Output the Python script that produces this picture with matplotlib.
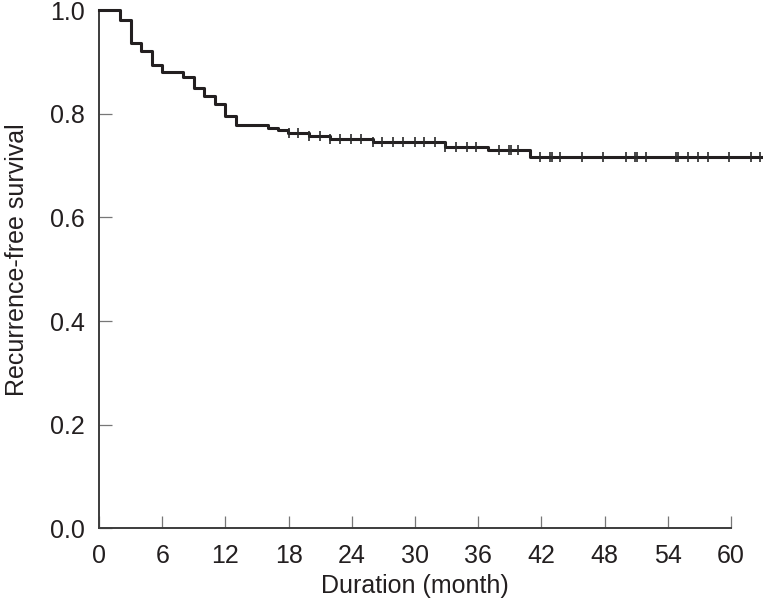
import matplotlib
matplotlib.use('Agg')
import matplotlib.pyplot as plt
import numpy as np

# Kaplan-Meier step values
event_months = [0, 2, 3, 4, 5, 6, 8, 9, 10, 11, 12, 13, 16, 17, 17.9, 19.9, 21.9, 26, 32.9, 36.9, 40.9]
survival = [1.0, 0.981, 0.937, 0.921, 0.894, 0.880, 0.870, 0.849, 0.835, 0.818, 0.795,
            0.779, 0.773, 0.768, 0.763, 0.757, 0.751, 0.745, 0.736, 0.729, 0.717]
last_month = 62.9

# censored observations (tick marks)
censor_months = [18.0, 18.9, 19.9, 21.0, 21.9, 22.9, 23.9, 24.9, 26.0, 26.9, 27.9, 28.9,
                 30.0, 30.9, 31.9, 32.9, 33.9, 34.9, 35.8, 38.0, 38.9, 39.1, 39.8, 41.9,
                 42.8, 43.0, 43.8, 45.9, 47.9, 50.0, 50.9, 51.1, 51.9, 54.8, 55.0, 55.9,
                 56.9, 57.8, 59.8, 61.9, 62.8]

x_ticks = [0, 6, 12, 18, 24, 30, 36, 42, 48, 54, 60]
y_ticks = [0.0, 0.2, 0.4, 0.6, 0.8, 1.0]

plt.rcParams['font.family'] = ['Liberation Sans', 'DejaVu Sans']

fig = plt.figure(figsize=(7.63, 6.09), dpi=100)
ax = fig.add_axes([0.1298, 0.1325, 0.8695, 0.851])

line_col = '#231f20'
axis_col = '#3c3c3c'

xs = event_months + [last_month]
ys = survival + [survival[-1]]
ax.step(xs, ys, where='post', color=line_col, lw=2.2, clip_on=False, zorder=3)

idx = np.searchsorted(event_months, censor_months, side='right') - 1
cy = np.array(survival)[idx]
ax.plot(censor_months, cy, ls='none', marker='|', ms=7.5, mew=1.2,
        color='#2a2a2a', clip_on=False, zorder=4)

ax.set_xlim(0, 63)
ax.set_ylim(0, 1.0)
ax.set_xticks(x_ticks)
ax.set_yticks(y_ticks)
ax.set_yticklabels([f'{v:.1f}' for v in y_ticks])

for s in ['top', 'right']:
    ax.spines[s].set_visible(False)
ax.spines['bottom'].set_bounds(0, 60)
for s in ['left', 'bottom']:
    ax.spines[s].set_color(axis_col)
    ax.spines[s].set_linewidth(1.4)

ax.tick_params(axis='both', direction='in', length=9, width=0.9, color='#777777',
               labelsize=18, labelcolor='#231f20')
ax.tick_params(axis='x', pad=11)
ax.tick_params(axis='y', pad=10)

ax.set_xlabel('Duration (month)', fontsize=18, color='#231f20')
ax.set_ylabel('Recurrence-free survival', fontsize=18, color='#231f20')
ax.xaxis.set_label_coords(30 / 63, -0.088)
ax.yaxis.set_label_coords(-0.105, 0.518)

fig.savefig('out.png', dpi=100)
